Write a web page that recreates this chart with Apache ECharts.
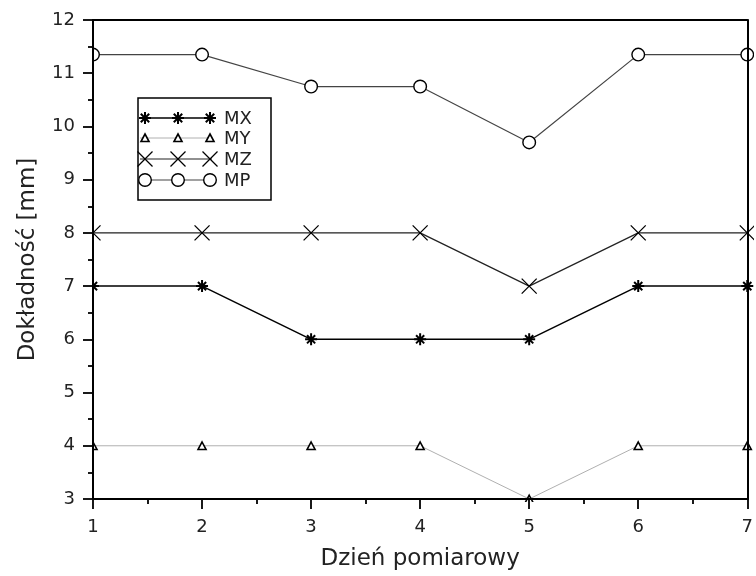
<!DOCTYPE html>
<html>
<head>
<meta charset="utf-8">
<script src="https://cdn.jsdelivr.net/npm/echarts@6/dist/echarts.min.js"></script>
<style>html,body{margin:0;padding:0;background:#fff}#c{width:756px;height:576px}</style>
</head>
<body>
<div id="c"></div>
<script>
const days = [1, 2, 3, 4, 5, 6, 7];
const MX = [7, 7, 6, 6, 6, 7, 7];
const MY = [4, 4, 4, 4, 3, 4, 4];
const MZ = [8, 8, 8, 8, 7, 8, 8];
const MP = [11.35, 11.35, 10.75, 10.75, 9.7, 11.35, 11.35];
const seriesNames = ['MX', 'MY', 'MZ', 'MP'];

const FONT = 'DejaVu Sans';
const ASTER = 'path://M5 0L5 10M0 5L10 5M1.6 1.6L8.4 8.4M8.4 1.6L1.6 8.4';
const XMARK = 'path://M0 0L10 10M10 0L0 10';

const pair = arr => days.map((d, i) => [d, arr[i]]);

const chart = echarts.init(document.getElementById('c'), null, {renderer: 'canvas'});

const GL = 93, GT = 20, GR = 753, GB = 501;

// legend drawing (decoration only)
const lx = [145, 178, 210], rows = [118, 138, 159, 180];
const lineCols = ['#000', '#b0b0b0', '#222', '#444'];
const lineWidths = [1.5, 1, 1.2, 1.2];
const legendEls = [];
legendEls.push({type: 'rect', z: 30, shape: {x: 138, y: 98, width: 133, height: 102}, style: {fill: '#fff', stroke: '#000', lineWidth: 1.5}});
rows.forEach((y, r) => {
  legendEls.push({type: 'line', z: 31, shape: {x1: 140, y1: y, x2: 212, y2: y}, style: {stroke: lineCols[r], lineWidth: lineWidths[r]}});
  lx.forEach(x => {
    if (r === 0) {
      const s = 6;
      [[0, -s, 0, s], [-s, 0, s, 0], [-s * .7, -s * .7, s * .7, s * .7], [s * .7, -s * .7, -s * .7, s * .7]].forEach(p =>
        legendEls.push({type: 'line', z: 32, shape: {x1: x + p[0], y1: y + p[1], x2: x + p[2], y2: y + p[3]}, style: {stroke: '#000', lineWidth: 2}}));
    } else if (r === 1) {
      legendEls.push({type: 'polygon', z: 32, shape: {points: [[x, y - 4], [x + 4, y + 3.5], [x - 4, y + 3.5]]}, style: {fill: '#fff', stroke: '#000', lineWidth: 1.6}});
    } else if (r === 2) {
      const s = 7.5;
      legendEls.push({type: 'line', z: 32, shape: {x1: x - s, y1: y - s, x2: x + s, y2: y + s}, style: {stroke: '#000', lineWidth: 1.3}});
      legendEls.push({type: 'line', z: 32, shape: {x1: x + s, y1: y - s, x2: x - s, y2: y + s}, style: {stroke: '#000', lineWidth: 1.3}});
    } else {
      legendEls.push({type: 'circle', z: 32, shape: {cx: x, cy: y, r: 6.3}, style: {fill: '#fff', stroke: '#000', lineWidth: 1.4}});
    }
  });
  legendEls.push({type: 'text', z: 32, x: 224, y: y + 1, style: {text: seriesNames[r], font: '18px "' + FONT + '"', fill: '#222', verticalAlign: 'middle', align: 'left'}});
});

// white masks outside plot area so boundary markers look clipped
const masks = [
  {type: 'rect', z: 10, shape: {x: 0, y: 0, width: GL - 1, height: 576}, style: {fill: '#fff'}},
  {type: 'rect', z: 10, shape: {x: 0, y: GB + 1, width: 756, height: 80}, style: {fill: '#fff'}},
  {type: 'rect', z: 10, shape: {x: GR + 1, y: 0, width: 10, height: 576}, style: {fill: '#fff'}}
];

const axisLineStyle = {color: '#000', width: 2};
const tickStyle = {color: '#000', width: 1.8};
const labelStyle = {fontFamily: FONT, fontSize: 18, color: '#222'};

chart.setOption({
  animation: false,
  backgroundColor: '#fff',
  grid: {left: GL, top: GT, right: 756 - GR, bottom: 576 - GB, show: false},
  graphic: masks.concat(legendEls),
  xAxis: [{
    type: 'value', min: 1, max: 7, interval: 1, z: 20,
    name: 'Dzień pomiarowy', nameLocation: 'middle', nameGap: 49,
    nameTextStyle: {fontFamily: FONT, fontSize: 23, color: '#222'},
    axisLine: {show: true, onZero: false, lineStyle: axisLineStyle},
    axisTick: {show: true, length: 10, lineStyle: tickStyle},
    minorTick: {show: true, splitNumber: 2, length: 5, lineStyle: tickStyle},
    axisLabel: Object.assign({margin: 19}, labelStyle),
    splitLine: {show: false}
  }, {
    type: 'value', min: 1, max: 7, position: 'top', z: 20,
    axisLine: {show: true, onZero: false, lineStyle: axisLineStyle},
    axisTick: {show: false}, axisLabel: {show: false}, splitLine: {show: false}
  }],
  yAxis: [{
    type: 'value', min: 3, max: 12, interval: 1, z: 20,
    name: 'Dokładność [mm]', nameLocation: 'middle', nameGap: 53,
    nameTextStyle: {fontFamily: FONT, fontSize: 23, color: '#222'},
    axisLine: {show: true, onZero: false, lineStyle: axisLineStyle},
    axisTick: {show: true, length: 10, lineStyle: tickStyle},
    minorTick: {show: true, splitNumber: 2, length: 5, lineStyle: tickStyle},
    axisLabel: Object.assign({margin: 18}, labelStyle),
    splitLine: {show: false}
  }, {
    type: 'value', min: 3, max: 12, position: 'right', z: 20,
    axisLine: {show: true, onZero: false, lineStyle: axisLineStyle},
    axisTick: {show: false}, axisLabel: {show: false}, splitLine: {show: false}
  }],
  series: [
    {name: 'MX', type: 'line', data: pair(MX), symbol: ASTER, symbolSize: 12, clip: false,
     lineStyle: {color: lineCols[0], width: lineWidths[0]}, itemStyle: {color: '#000', borderColor: '#000', borderWidth: 2}},
    {name: 'MY', type: 'line', data: pair(MY), symbol: 'triangle', symbolSize: [8, 7.5], clip: false,
     lineStyle: {color: lineCols[1], width: lineWidths[1]}, itemStyle: {color: '#fff', borderColor: '#000', borderWidth: 1.6}},
    {name: 'MZ', type: 'line', data: pair(MZ), symbol: XMARK, symbolSize: 15, clip: false,
     lineStyle: {color: lineCols[2], width: lineWidths[2]}, itemStyle: {color: '#fff', borderColor: '#000', borderWidth: 1.3}},
    {name: 'MP', type: 'line', data: pair(MP), symbol: 'circle', symbolSize: 12.6, clip: false,
     lineStyle: {color: lineCols[3], width: lineWidths[3]}, itemStyle: {color: '#fff', borderColor: '#000', borderWidth: 1.4}}
  ]
});
</script>
</body>
</html>
